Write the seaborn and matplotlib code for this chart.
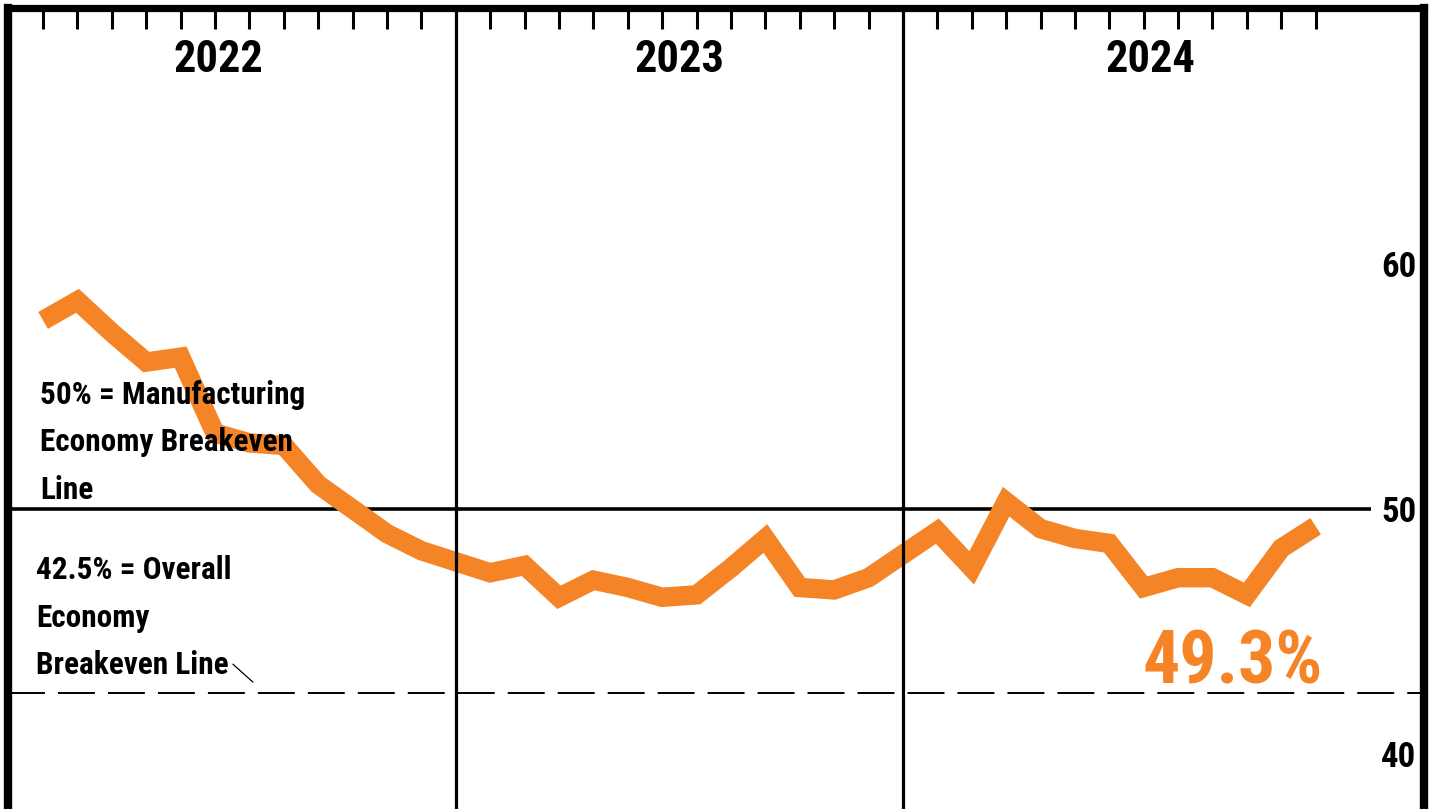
import pandas as pd
import matplotlib
matplotlib.use("Agg")
import matplotlib.pyplot as plt
import seaborn as sns
from matplotlib import font_manager

# monthly PMI readings, Jan..Dec of each year
years = ["2022", "2023", "2024"]
pmi_2022 = [57.7, 58.5, 57.2, 56.0, 56.2, 53.1, 52.7, 52.6, 51.0, 50.0, 49.0, 48.3]
pmi_2023 = [47.4, 47.7, 46.4, 47.1, 46.8, 46.4, 46.5, 47.6, 48.8, 46.8, 46.7, 47.2]
pmi_2024 = [49.1, 47.6, 50.3, 49.2, 48.8, 48.6, 46.8, 47.2, 47.2, 46.5, 48.4, 49.3]
y_ticks = [40, 50, 60]
mfg_line = 50
overall_line = 42.5
last_label = "49.3%"

ORANGE = "#F58426"

names = {f.name for f in font_manager.fontManager.ttflist}
FONT = "DejaVu Sans"
for fam in ["Liberation Sans Narrow", "Roboto Condensed", "Open Sans Condensed", "Roboto"]:
    if fam in names:
        FONT = fam
        break
WEIGHT = "black"

sns.set_theme(style="white")
plt.rcParams["font.family"] = [FONT, "DejaVu Sans"]
plt.rcParams["font.weight"] = WEIGHT

# one slot per month, one empty slot for the year divider
rows = []
for yi, vals in enumerate([pmi_2022, pmi_2023, pmi_2024]):
    for m, v in enumerate(vals):
        rows.append({"year": years[yi], "month": m + 1, "slot": yi * 13 + m, "pmi": v})
df = pd.DataFrame(rows)

fig = plt.figure(figsize=(14.4, 8.09), dpi=100)
ax = fig.add_axes([8 / 1440, 0, 1416 / 1440, 801 / 809])

ax.hlines(mfg_line, -1.02, 38.6, color="black", lw=2.6, zorder=1)
ax.axhline(overall_line, color="black", lw=1.4, dashes=(19, 6.7), zorder=1)

sns.lineplot(data=df, x="slot", y="pmi", color=ORANGE, linewidth=14,
             sort=False, legend=False, ax=ax, zorder=2)
line = ax.lines[-1]
line.set_solid_joinstyle("miter")
line.set_solid_capstyle("butt")

for d in [12, 25]:
    ax.axvline(d, color="black", lw=2.3, zorder=3)

ax.set_xlim(-1.02, 40.15)
ax.set_ylim(37.76, 70.45)

for s in ["left", "top", "right"]:
    ax.spines[s].set_visible(True)
    ax.spines[s].set_color("black")
ax.spines["left"].set_linewidth(6)
ax.spines["right"].set_linewidth(6)
ax.spines["top"].set_linewidth(5.2)
ax.spines["bottom"].set_visible(False)

ax.xaxis.tick_top()
ax.set_xticks(df["slot"])
ax.tick_params(axis="x", direction="in", length=15, width=2.2, color="black",
               top=True, bottom=False, labeltop=False, labelbottom=False)
ax.yaxis.tick_right()
ax.set_yticks(y_ticks)
ax.set_yticklabels([str(t) for t in y_ticks])
ax.tick_params(axis="y", length=0, pad=-31, labelsize=25, labelcolor="black",
               left=False, right=False, labelleft=False, labelright=True)
for lab in ax.get_yticklabels():
    lab.set_fontweight(WEIGHT)
ax.set_xlabel("")
ax.set_ylabel("")
ax.grid(False)

year_x = [5.1, 18.5, 32.2]
for yx, yr in zip(year_x, years):
    ax.text(yx, 68.33, yr, ha="center", va="center",
            fontsize=32, fontweight=WEIGHT, color="black")

ax.text(-0.09, 55.28, "50% = Manufacturing\nEconomy Breakeven\nLine", ha="left", va="top",
        fontsize=22.5, fontweight=WEIGHT, color="black", linespacing=1.73, zorder=4)
ax.text(-0.2, 48.12, "42.5% = Overall\nEconomy\nBreakeven Line", ha="left", va="top",
        fontsize=22.5, fontweight=WEIGHT, color="black", linespacing=1.73, zorder=4)
ax.plot([5.52, 6.1], [43.67, 42.94], color="black", lw=0.9)

ax.text(34.6, 42.9, last_label, ha="center", va="baseline", fontsize=53,
        fontweight=WEIGHT, color=ORANGE, zorder=4)

fig.savefig("out.png", dpi=100)
